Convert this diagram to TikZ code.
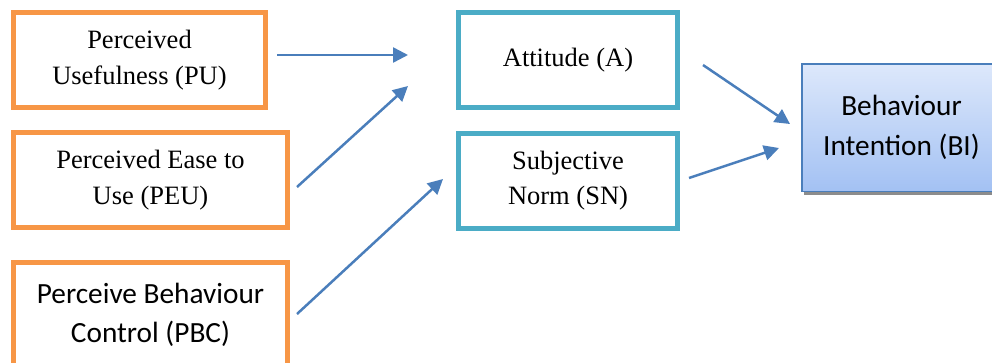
\documentclass[tikz,border=0pt]{standalone}
\usepackage{fontspec}
\setmainfont{Liberation Serif}
\newfontfamily\calibri{Carlito}
\usepackage{tikz}
\usetikzlibrary{arrows.meta,calc,shadows}
\definecolor{tamorange}{HTML}{F79646}
\definecolor{tamteal}{HTML}{4BACC6}
\definecolor{tamblue}{HTML}{4A7EBB}
\definecolor{tamtop}{HTML}{DDE8FB}
\definecolor{tambottom}{HTML}{A3C1F3}

\begin{document}
\begin{tikzpicture}[x=1pt,y=-1pt,
  extbox/.style={draw=tamorange,line width=5pt,align=center,inner sep=0pt,
    font=\fontsize{26.5}{36}\selectfont},
  midbox/.style={draw=tamteal,line width=5pt,align=center,inner sep=0pt,
    minimum width=219pt,minimum height=95pt,font=\fontsize{26.5}{35}\selectfont},
  outbox/.style={draw=tamblue,line width=1.5pt,align=center,inner sep=0pt,
    top color=tamtop,bottom color=tambottom,
    drop shadow={shadow xshift=2pt,shadow yshift=-4pt,fill=black!45,opacity=1},
    font=\calibri\fontsize{29.3}{40}\selectfont},
  arr/.style={-{Triangle[length=15pt,width=15pt]},tamblue,line width=2.5pt}]
\useasboundingbox (0,0) rectangle (992,362);
\node[extbox,minimum width=252pt,minimum height=95pt] (pu) at (139.5,60) {Perceived\\Usefulness (PU)};
\node[extbox,minimum width=274pt,minimum height=95pt] (peu) at (150.5,180) {Perceived Ease to\\Use (PEU)};
\node[extbox,minimum width=274pt,minimum height=105pt,
  font=\calibri\fontsize{29.3}{39}\selectfont] (pbc) at (150.5,315) {Perceive Behaviour\\Control (PBC)};
\node[midbox] (att) at (568,60) {Attitude (A)};
\node[midbox] (sn) at (568,181) {Subjective\\Norm (SN)};
\node[outbox,minimum width=199.5pt,minimum height=127.5pt] (bi) at (901.5,127.5) {Behaviour\\Intention (BI)};
\draw[arr] ($(pu.east)+(9,-5)$) -- ($(att.west)+(-48,-5)$);
\draw[arr] ($(peu.east)+(7,7)$) -- ($(att.west)+(-48,26)$);
\draw[arr] ($(pbc.east)+(7,-1)$) -- ($(sn.west)+(-13,-2)$);
\draw[arr] ($(att.east)+(23,5)$) -- ($(bi.west)+(-11,-3.5)$);
\draw[arr] ($(sn.east)+(9,-3)$) -- ($(bi.west)+(-22,20.5)$);
\end{tikzpicture}
\end{document}
